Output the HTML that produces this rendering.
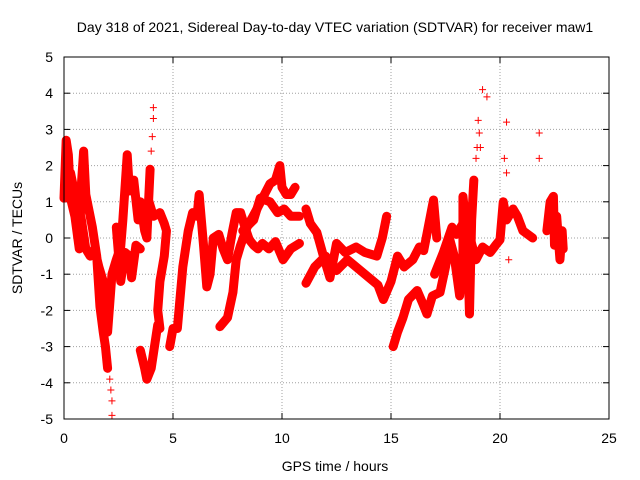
<!DOCTYPE html>
<html><head><meta charset="utf-8"><style>
body{margin:0;background:#fff}
svg{display:block;font-family:"Liberation Sans",sans-serif}
</style></head><body>
<svg id="chart" width="640" height="480" viewBox="0 0 640 480">
<rect width="640" height="480" fill="#fff"/>
<text x="335" y="32" font-size="14" text-anchor="middle">Day 318 of 2021, Sidereal Day-to-day VTEC variation (SDTVAR) for receiver maw1</text>
<g id="grid"></g>
<g id="axes"></g>
<g id="series"></g>
<rect x="64" y="57" width="545" height="362" fill="none" stroke="#000" stroke-width="1"/>
<text x="335" y="471" font-size="14" text-anchor="middle">GPS time / hours</text>
<text transform="translate(22,238) rotate(-90)" font-size="14" text-anchor="middle">SDTVAR / TECUs</text>
</svg>
<script>
const xTicks=[0,5,10,15,20,25];
const yTicks=[-5,-4,-3,-2,-1,0,1,2,3,4,5];
const track1=[[0,1.1],[0.1,2.7],[0.2,2.3],[0.3,1.1],[0.5,0.6],[0.7,-0.3],[0.8,1.5],[0.9,2.4],[1.0,1.2],[1.3,0.3],[1.5,-0.5],[1.65,-1.9],[1.8,-2.6],[1.9,-3.0],[2.0,-3.6]];
const track2=[[0.3,1.8],[0.5,1.2],[0.8,0.5],[1.0,-0.3],[1.2,-0.5],[1.4,-0.3],[1.6,-0.8],[1.8,-1.2],[2.0,-2.6],[2.2,-1.0],[2.4,-0.6],[2.6,-0.25],[2.7,0.5],[2.9,2.3],[3.0,1.3],[3.2,1.6],[3.4,0.5],[3.5,1.0],[3.7,0.2],[3.8,0.0],[3.95,1.9]];
const track3=[[2.4,0.3],[2.6,-1.2],[2.8,-0.4],[3.0,-0.5],[3.1,-1.1],[3.3,-0.2],[3.5,-0.3]];
const track4=[[3.9,1.0],[4.1,0.6],[4.4,0.7],[4.6,0.4],[4.7,0.2],[4.6,-0.5],[4.4,-1.2],[4.3,-2.0],[4.4,-2.5]];
const track5=[[3.5,-3.1],[3.7,-3.6],[3.8,-3.9],[4.0,-3.6],[4.1,-3.2],[4.3,-2.4]];
const track6=[[4.85,-3.0],[5.0,-2.5],[5.2,-2.5],[5.45,-0.8],[5.7,0.2],[5.9,0.7],[6.1,0.6],[6.2,1.2],[6.4,-0.2],[6.55,-1.35],[6.7,-1.0],[6.85,0.0],[7.1,0.1],[7.3,-0.3],[7.5,-0.6],[7.7,0.1],[7.9,0.7],[8.1,0.7],[8.3,0.3],[8.5,-0.05],[8.7,-0.2],[8.9,-0.3],[9.1,-0.15],[9.4,-0.3],[9.7,-0.1],[10.05,-0.6],[10.4,-0.3],[10.8,-0.15]];
const track7=[[7.15,-2.45],[7.5,-2.2],[7.75,-1.5],[7.9,-0.6],[8.1,-0.2],[8.4,0.3],[8.85,0.8],[9.45,1.5],[9.7,1.6],[9.9,2.0],[10.0,1.4],[10.2,1.2],[10.4,1.2],[10.6,1.4]];
const track8=[[8.2,0.2],[8.7,0.5],[9.0,1.1],[9.45,1.0],[9.8,0.7],[10.1,0.8],[10.4,0.6],[10.8,0.6]];
const track9=[[11.1,0.8],[11.3,0.4],[11.6,0.15],[11.9,-0.5],[12.2,-1.1],[12.5,-0.15],[12.9,-0.4],[13.4,-0.25],[13.8,-0.4],[14.35,-0.5],[14.6,0.0],[14.8,0.6]];
const track10=[[11.1,-1.25],[11.5,-0.8],[12.0,-0.5],[12.5,-0.9],[13.0,-0.6],[13.6,-0.9],[14.0,-1.1],[14.4,-1.3],[14.65,-1.7],[15.0,-1.2],[15.3,-0.5],[15.6,-0.8],[16.0,-0.6],[16.3,-0.25],[16.5,-0.35],[16.95,1.05],[17.1,0.0]];
const track11=[[15.1,-3.0],[15.3,-2.6],[15.55,-2.2],[15.8,-1.7],[16.2,-1.45],[16.45,-1.8],[16.65,-2.1],[16.9,-1.6],[17.25,-1.5],[17.5,-0.8],[17.7,-0.05],[17.9,-0.5],[18.15,-1.6],[18.3,-0.5],[18.3,1.15],[18.5,0.0],[18.6,-2.1],[18.7,0.5],[18.8,1.6]];
const track12=[[17.0,-1.0],[17.4,-0.4],[17.8,0.3],[18.0,0.1],[18.4,0.5],[18.9,-0.6],[19.2,-0.25],[19.55,-0.4],[19.8,-0.2],[20.0,-0.05],[20.15,1.0],[20.3,0.5],[20.6,0.8],[20.8,0.6],[21.05,0.2],[21.5,0.0]];
const track13=[[22.15,0.2],[22.3,1.0],[22.45,1.15],[22.5,-0.2],[22.6,0.6],[22.75,-0.6],[22.85,0.2],[22.9,-0.3]];
const outliers=[[19.2,4.1],[19.4,3.9],[20.3,3.2],[21.8,2.9],[21.8,2.2],[4.1,3.6],[4.1,3.3],[4.05,2.8],[4.0,2.4],[2.2,-4.9],[2.2,-4.5],[2.15,-4.2],[2.1,-3.9],[19.0,3.25],[19.05,2.9],[18.95,2.5],[18.9,2.2],[19.1,2.5],[20.2,2.2],[20.3,1.8],[20.4,-0.6]];
const tracks=[track1,track2,track3,track4,track5,track6,track7,track8,track9,track10,track11,track12,track13];

const NS="http://www.w3.org/2000/svg";
const X0=64,X1=609,Y0=419,Y1=57;
function sx(t){return X0+(t-0)/(25-0)*(X1-X0);}
function sy(v){return Y0-(v+5)/10*(Y0-Y1);}
function mk(tag,attrs,parent){const e=document.createElementNS(NS,tag);for(const k in attrs)e.setAttribute(k,attrs[k]);parent.appendChild(e);return e;}
const grid=document.getElementById('grid'),axes=document.getElementById('axes'),ser=document.getElementById('series');
xTicks.forEach(t=>{
  const x=sx(t);
  if(t>0&&t<25){const l=mk('line',{x1:x,x2:x,y1:Y1,y2:Y0,stroke:'#a0a0a0','stroke-dasharray':'1,2'},grid);
  
  }
  mk('line',{x1:x,x2:x,y1:Y0,y2:Y0-6,stroke:'#000'},axes);
  mk('line',{x1:x,x2:x,y1:Y1,y2:Y1+6,stroke:'#000'},axes);
  const tx=mk('text',{x:x,y:443,'font-size':14,'text-anchor':'middle'},axes);tx.textContent=t;
  
  
});
yTicks.forEach(v=>{
  const y=sy(v);
  if(v>-5&&v<5){const l=mk('line',{x1:X0,x2:X1,y1:y,y2:y,stroke:'#a0a0a0','stroke-dasharray':'1,2'},grid);
  
  }
  mk('line',{x1:X0,x2:X0+6,y1:y,y2:y,stroke:'#000'},axes);
  mk('line',{x1:X1,x2:X1-6,y1:y,y2:y,stroke:'#000'},axes);
  const tx=mk('text',{x:53,y:y+5,'font-size':14,'text-anchor':'end'},axes);tx.textContent=v;
  
  
});
function plus(t,v){
  const x=sx(t),y=sy(v);
  const p=mk('path',{d:`M${x-3.5},${y}H${x+3.5}M${x},${y-3.5}V${y+3.5}`,stroke:'#f00','stroke-width':1},ser);
  
  
}
tracks.forEach(tr=>{
  const pl=mk('polyline',{points:tr.map(p=>sx(p[0])+','+sy(p[1])).join(' '),fill:'none',stroke:'#f00','stroke-width':9,'stroke-linejoin':'round','stroke-linecap':'round'},ser);
  
  
  tr.forEach(p=>plus(p[0],p[1]));
});
outliers.forEach(p=>plus(p[0],p[1]));
</script>
</body></html>
